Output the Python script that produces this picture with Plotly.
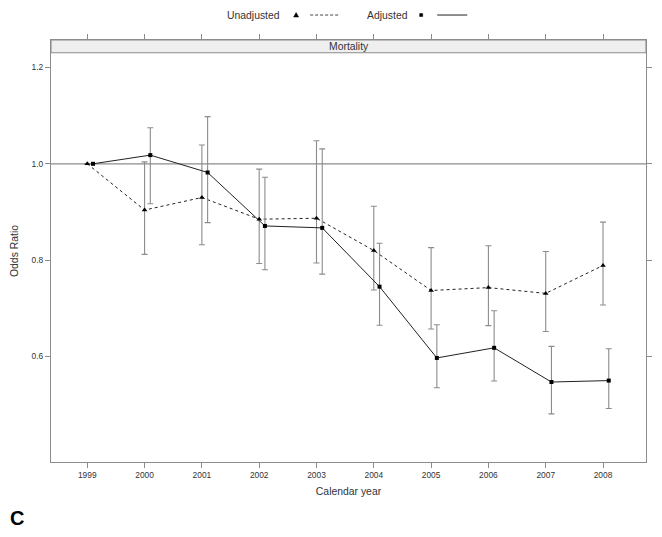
import plotly.graph_objects as go

# data (odds ratios with 95% CI)
years = [1999, 2000, 2001, 2002, 2003, 2004, 2005, 2006, 2007, 2008]
unadj = [1.0, 0.904, 0.930, 0.885, 0.887, 0.820, 0.737, 0.743, 0.731, 0.789]
unadj_lo = [1.0, 0.812, 0.832, 0.793, 0.794, 0.738, 0.657, 0.664, 0.652, 0.707]
unadj_hi = [1.0, 1.004, 1.039, 0.989, 1.048, 0.912, 0.826, 0.830, 0.818, 0.879]
adj = [1.0, 1.018, 0.982, 0.871, 0.867, 0.745, 0.597, 0.618, 0.547, 0.550]
adj_lo = [1.0, 0.917, 0.878, 0.780, 0.771, 0.665, 0.535, 0.549, 0.481, 0.492]
adj_hi = [1.0, 1.075, 1.098, 0.972, 1.031, 0.835, 0.666, 0.695, 0.621, 0.616]
y_ticks = [0.6, 0.8, 1.0, 1.2]

W, H = 662, 537
L, R, T, B = 51, 16.3, 40, 74.7
PW, PH = W - L - R, H - T - B
FONT = "Liberation Sans, Arial, sans-serif"
GREY = "#8c8c8c"
TXT = "#333333"


def px(x):
    return (x - L) / PW


def py(y):
    return (H - B - y) / PH


adj_x = [y + 0.1 for y in years]

fig = go.Figure()
fig.add_trace(go.Scatter(
    x=years, y=unadj, mode="lines+markers", name="Unadjusted",
    line=dict(color="#222222", width=1, dash="3px,3px"),
    marker=dict(symbol="triangle-up", size=5, color="black"),
    error_y=dict(type="data", symmetric=False,
                 array=[h - v for h, v in zip(unadj_hi, unadj)],
                 arrayminus=[v - lo for v, lo in zip(unadj, unadj_lo)],
                 color=GREY, thickness=1.1, width=3),
))
fig.add_trace(go.Scatter(
    x=adj_x, y=adj, mode="lines+markers", name="Adjusted",
    line=dict(color="#222222", width=1),
    marker=dict(symbol="square", size=4, color="black"),
    error_y=dict(type="data", symmetric=False,
                 array=[h - v for h, v in zip(adj_hi, adj)],
                 arrayminus=[v - lo for v, lo in zip(adj, adj_lo)],
                 color=GREY, thickness=1.1, width=3),
))

shapes = [
    # reference line at OR = 1
    dict(type="line", xref="x domain", yref="y", x0=0, x1=1, y0=1.0, y1=1.0,
         line=dict(color=GREY, width=1.2), layer="below"),
    # strip
    dict(type="rect", xref="paper", yref="paper", x0=0, x1=1, y0=py(52.7), y1=1,
         fillcolor="#efefef", line=dict(color=GREY, width=1.1)),
    # key lines
    dict(type="line", xref="paper", yref="paper", x0=px(310), x1=px(338), y0=py(15), y1=py(15),
         line=dict(color="#444444", width=1, dash="3px,2px")),
    dict(type="line", xref="paper", yref="paper", x0=px(437), x1=px(467), y0=py(15), y1=py(15),
         line=dict(color="#222222", width=1)),
    # key symbols
    dict(type="path", xref="paper", yref="paper",
         path=f"M {px(293.5)},{py(17)} L {px(298.5)},{py(17)} L {px(296)},{py(12.5)} Z",
         fillcolor="black", line=dict(color="black", width=0.5)),
    dict(type="rect", xref="paper", yref="paper", x0=px(419.5), x1=px(422.5), y0=py(16.5), y1=py(13.5),
         fillcolor="black", line=dict(color="black", width=0.5)),
]

annotations = [
    dict(text="Mortality", x=0.5, y=py(46.5), xref="paper", yref="paper", showarrow=False,
         font=dict(family=FONT, size=10.4, color=TXT), xanchor="center", yanchor="middle"),
    dict(text="Unadjusted", x=px(282), y=py(15), xref="paper", yref="paper", showarrow=False,
         font=dict(family=FONT, size=10.4, color=TXT), xanchor="right", yanchor="middle"),
    dict(text="Adjusted", x=px(410), y=py(15), xref="paper", yref="paper", showarrow=False,
         font=dict(family=FONT, size=10.4, color=TXT), xanchor="right", yanchor="middle"),
    dict(text="<b>C</b>", x=px(8), y=py(518), xref="paper", yref="paper", showarrow=False,
         font=dict(family=FONT, size=20, color="black"), xanchor="left", yanchor="middle"),
]

fig.update_layout(
    width=W, height=H,
    margin=dict(l=L, r=R, t=T, b=B, pad=0, autoexpand=False),
    plot_bgcolor="white", paper_bgcolor="white",
    showlegend=False,
    font=dict(family=FONT, color=TXT),
    shapes=shapes,
    annotations=annotations,
    xaxis=dict(
        range=[1998.367, 2008.75], automargin=False,
        tickmode="array", tickvals=years, ticktext=[str(y) for y in years],
        ticks="outside", ticklen=5, tickcolor=GREY, tickwidth=1,
        showline=True, linecolor=GREY, linewidth=1.1, mirror="ticks",
        showgrid=False, zeroline=False,
        tickfont=dict(family=FONT, size=8.4, color=TXT),
        title=dict(text="Calendar year", font=dict(family=FONT, size=10.4, color=TXT), standoff=8),
    ),
    yaxis=dict(
        range=[0.381, 1.257], automargin=False,
        tickmode="array", tickvals=y_ticks, ticktext=[f"{v:.1f}" for v in y_ticks],
        ticks="outside", ticklen=5, tickcolor=GREY, tickwidth=1,
        showline=True, linecolor=GREY, linewidth=1.1, mirror="ticks",
        showgrid=False, zeroline=False,
        tickfont=dict(family=FONT, size=8.4, color=TXT),
        title=dict(text="Odds Ratio", font=dict(family=FONT, size=10.4, color=TXT), standoff=10),
    ),
)

# drop the browser's default body margin so the figure sits at the page origin
fig.write_html("out.html", config={"displayModeBar": False},
               post_script="document.body.style.margin='0';document.body.style.overflow='hidden';")
